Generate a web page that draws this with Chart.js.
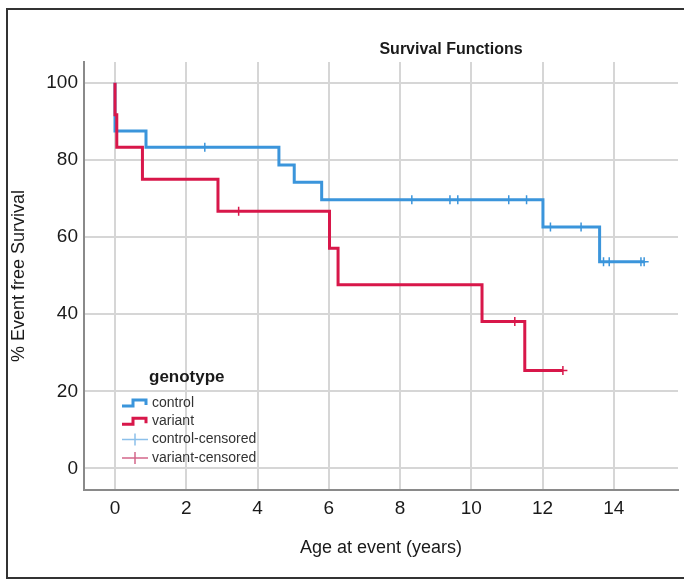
<!DOCTYPE html>
<html>
<head>
<meta charset="utf-8">
<title>Survival Functions</title>
<script src="https://cdn.jsdelivr.net/npm/chart.js@4.4.1/dist/chart.umd.min.js"></script>
<style>
  html, body { margin: 0; padding: 0; background: #fff; overflow: hidden; }
  #wrap { position: relative; width: 684px; height: 583px; }
  #frame { position: absolute; left: 6px; top: 8px; width: 720px; height: 567px; border: 2px solid #333; pointer-events: none; }
  canvas { position: absolute; left: 0; top: 0; }
</style>
</head>
<body>
<div id="wrap">
  <canvas id="kmChart" width="684" height="583"></canvas>
  <div id="frame"></div>
</div>
<script>
// Kaplan-Meier steps (age in years, % event free)
const controlTimes = [0, 0, 0.87, 4.6, 5.03, 5.8, 12.01, 13.6, 14.85];
const controlSurvival = [100, 87.5, 83.3, 78.7, 74.2, 69.7, 62.6, 53.6, 53.6];
const variantTimes = [0, 0, 0.05, 0.77, 2.89, 6.02, 6.26, 10.3, 11.5, 12.57];
const variantSurvival = [100, 91.7, 83.3, 75.0, 66.7, 57.1, 47.6, 38.1, 25.4, 25.4];

// censored cases
const controlCensorTimes = [2.52, 8.33, 9.4, 9.62, 11.05, 11.55, 12.22, 13.08, 13.71, 13.87, 14.76, 14.85];
const controlCensorSurvival = [83.3, 69.7, 69.7, 69.7, 69.7, 69.7, 62.6, 62.6, 53.6, 53.6, 53.6, 53.6];
const variantCensorTimes = [3.47, 11.22, 12.57];
const variantCensorSurvival = [66.7, 38.1, 25.4];

const xTicks = [0, 2, 4, 6, 8, 10, 12, 14];
const yTicks = [0, 20, 40, 60, 80, 100];
const seriesLabels = ['control', 'variant', 'control-censored', 'variant-censored'];

const blue = '#3b95db';
const red = '#d8174a';
const legendColors = [blue, red, '#8cc0ea', '#d3678a'];
const fontFamily = '"Liberation Sans", Arial, sans-serif';

function toPoints(xs, ys) {
    return xs.map((x, i) => ({ x: x, y: ys[i] }));
}

// title sits right of centre, like the original
const chartTitle = {
    id: 'chartTitle',
    afterDraw(chart) {
        const ctx = chart.ctx;
        const area = chart.chartArea;
        ctx.save();
        ctx.font = 'bold 16px ' + fontFamily;
        ctx.fillStyle = '#1a1a1a';
        ctx.textAlign = 'center';
        ctx.textBaseline = 'middle';
        ctx.fillText('Survival Functions', area.left + 367, area.top - 12);
        ctx.restore();
    }
};

// legend drawn inside the plot, lower left
const genotypeLegend = {
    id: 'genotypeLegend',
    afterDraw(chart) {
        const ctx = chart.ctx;
        const area = chart.chartArea;
        const iconX = area.left + 38;
        const textX = area.left + 68;
        const top = area.top + 315;
        ctx.save();
        ctx.fillStyle = '#1a1a1a';
        ctx.textAlign = 'left';
        ctx.textBaseline = 'middle';
        ctx.font = 'bold 17px ' + fontFamily;
        ctx.fillText('genotype', iconX + 27, top);
        ctx.font = '14px ' + fontFamily;
        seriesLabels.forEach((label, i) => {
            const y = top + 26 + i * 18.3;
            ctx.strokeStyle = legendColors[i];
            ctx.beginPath();
            if (i < 2) {
                ctx.lineWidth = 3;
                ctx.moveTo(iconX, y + 3);
                ctx.lineTo(iconX + 11, y + 3);
                ctx.lineTo(iconX + 11, y - 3);
                ctx.lineTo(iconX + 24, y - 3);
                ctx.lineTo(iconX + 24, y + 2);
            } else {
                ctx.lineWidth = 1.5;
                ctx.moveTo(iconX, y);
                ctx.lineTo(iconX + 26, y);
                ctx.moveTo(iconX + 13, y - 6);
                ctx.lineTo(iconX + 13, y + 6);
            }
            ctx.stroke();
            ctx.fillStyle = '#333';
            ctx.fillText(label, textX, y);
        });
        ctx.restore();
    }
};

const ctx = document.getElementById('kmChart');

const kmChart = new Chart(ctx, {
    type: 'line',
    data: {
        datasets: [
            {
                label: seriesLabels[1],
                data: toPoints(variantTimes, variantSurvival),
                borderColor: red,
                borderWidth: 3,
                stepped: 'before',
                pointRadius: 0,
                fill: false,
                order: 2
            },
            {
                label: seriesLabels[0],
                data: toPoints(controlTimes, controlSurvival),
                borderColor: blue,
                borderWidth: 3,
                stepped: 'before',
                pointRadius: 0,
                fill: false,
                order: 3
            },
            {
                label: seriesLabels[2],
                data: toPoints(controlCensorTimes, controlCensorSurvival),
                showLine: false,
                pointStyle: 'cross',
                pointRadius: 4.5,
                pointBorderWidth: 1.5,
                borderColor: blue,
                order: 1
            },
            {
                label: seriesLabels[3],
                data: toPoints(variantCensorTimes, variantCensorSurvival),
                showLine: false,
                pointStyle: 'cross',
                pointRadius: 4.5,
                pointBorderWidth: 1.5,
                borderColor: red,
                order: 0
            }
        ]
    },
    options: {
        responsive: false,
        animation: false,
        events: [],
        layout: { padding: { left: 0, right: 3, top: 62, bottom: 0 } },
        plugins: {
            legend: { display: false },
            title: { display: false },
            tooltip: { enabled: false }
        },
        scales: {
            x: {
                type: 'linear',
                min: -0.87,
                max: 15.8,
                afterBuildTicks: scale => { scale.ticks = xTicks.map(v => ({ value: v })); },
                afterFit: scale => { scale.height = 93; },
                grid: { color: '#d6d6d6', lineWidth: 2, drawTicks: false },
                border: { color: '#8a8a8a', width: 2 },
                ticks: {
                    padding: 7,
                    color: '#1a1a1a',
                    font: { family: fontFamily, size: 19 }
                },
                title: {
                    display: true,
                    text: 'Age at event (years)',
                    color: '#1a1a1a',
                    font: { family: fontFamily, size: 18 },
                    padding: { top: 0, bottom: 24 }
                }
            },
            y: {
                min: -5.6,
                max: 105.4,
                afterBuildTicks: scale => { scale.ticks = yTicks.map(v => ({ value: v })); },
                afterFit: scale => { scale.width = 84; },
                grid: { color: '#d6d6d6', lineWidth: 2, drawTicks: false },
                border: { color: '#8a8a8a', width: 2 },
                ticks: {
                    padding: 6,
                    color: '#1a1a1a',
                    font: { family: fontFamily, size: 19 }
                },
                title: {
                    display: true,
                    text: '% Event free Survival',
                    color: '#1a1a1a',
                    font: { family: fontFamily, size: 18 },
                    padding: { top: 8, bottom: 0 }
                }
            }
        }
    },
    plugins: [chartTitle, genotypeLegend]
});
</script>
</body>
</html>
